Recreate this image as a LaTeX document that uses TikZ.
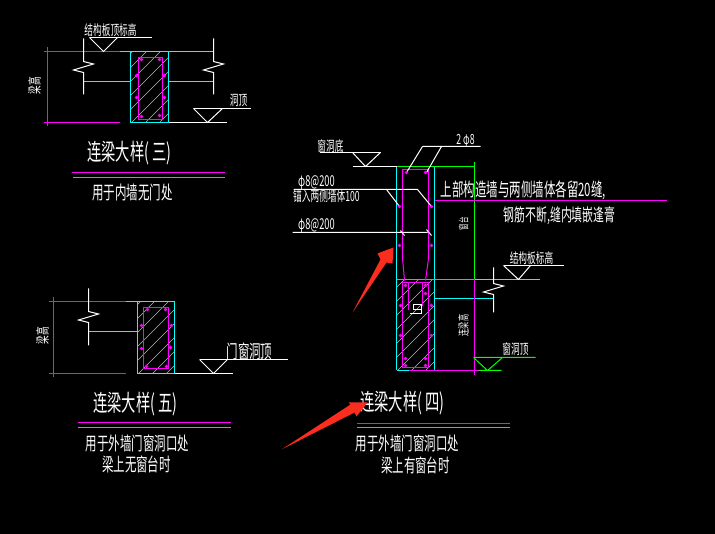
\documentclass[tikz,border=0pt]{standalone}
\usepackage{fontspec}
\usepackage{xcolor}
\newfontfamily\cjk[FakeStretch=0.62]{Noto Sans CJK SC}
\definecolor{cadcyan}{RGB}{0,255,255}
\definecolor{cadgreen}{RGB}{0,255,0}
\definecolor{cadpink}{RGB}{255,0,255}
\definecolor{cadhatch}{RGB}{185,185,185}
\definecolor{markred}{RGB}{250,45,30}
\newcommand{\cadtext}[1]{\fontsize{#1}{#1}\selectfont\cjk}

\begin{document}
\begin{tikzpicture}[x=1pt, y=-1pt, shift={(.5,.5)}, line width=1pt]
\tikzstyle{every node}=[text=white, inner sep=0pt, align=center]
\tikzstyle{wall}=[white]
\tikzstyle{beam}=[cadcyan]
\tikzstyle{bar}=[cadpink]
\tikzstyle{level}=[cadgreen]
\tikzstyle{hatch}=[cadhatch, line width=.5pt]
\tikzstyle{headline}=[font=\cadtext{23}]
\tikzstyle{subline}=[font=\cadtext{18.5}]
\tikzstyle{small}=[font=\cadtext{14}]
\fill[black] (-.5,-.5) rectangle (714.5,533.5);
\useasboundingbox (-.5,-.5) rectangle (714.5,533.5);
% hatching of the three sections
\foreach \xa/\ya/\xb/\yb in {130/51/168/122, 137/301/174/373, 396/279/434/370}{
  \begin{scope}
  \clip (\xa,\ya) rectangle (\xb,\yb);
  \foreach \s in {0,14,...,154}{\draw[hatch] (\xa-97+\s,\yb) -- ++(100,-100);}
  \end{scope}
}
% detail three
\draw[bar] (43,51) -- (119,51) (43,122) -- (119,122) (47,47) -- (47,126);
\draw[beam] (119,51) -- (213,51) (83,81) -- (130,81) (168,81) -- (213,81);
\draw[beam] (130,51) rectangle (168,122);
\draw[bar] (138,57) rectangle (162,119);
\draw[wall] (168,122) -- (226,122);
\draw[bar] (71,172) -- (224,172);
\draw[level] (72,177) -- (224,177);
\node[small] (top3) at (110,30) {结构板顶标高};
\node[small] (hole3) at (238,100) {洞顶};
\node[small, rotate=90] (high3) at (34,85) {梁高};
\node[headline] (title3) at (129,153) {连梁大样( 三)};
\node[subline] (note3) at (132,192) {用于内墙无门处};
% detail five
\draw[bar] (48,301) -- (125,301) (48,373) -- (125,373) (53,297) -- (53,377);
\draw[beam] (125,301) -- (137,301) (88,331) -- (137,331);
\draw[beam] (137,301) rectangle (174,373);
\draw[bar] (143,307) rectangle (168,368);
\draw[wall] (174,373) -- (232,373);
\draw[bar] (77,422) -- (230,422);
\draw[level] (77,427) -- (230,427);
\node[subline] (hole5) at (249,351) {门窗洞顶};
\node[small, rotate=90] (high5) at (42,335) {梁高};
\node[headline] (title5) at (135,404) {连梁大样( 五)};
\node[subline] (note5) at (137,443) {用于外墙门窗洞口处};
\node[subline] (table5) at (136,464) {梁上无窗台时};
% detail four
\draw[beam] (396,166) -- (396,370) (434,166) -- (434,370);
\draw[beam] (474,279) -- (539,279) (434,298) -- (493,298);
\draw[level] (396,166) -- (474,166) (474,162) -- (474,279) (396,279) -- (474,279);
\draw[bar] (474,279) -- (474,375) (408,370) -- (478,370);
\draw[beam] (396,370) -- (408,370);
\draw[level] (478,370) -- (501,370) (473,357) -- (535,357) (473,357) -- (487,370) -- (502,357);
\draw[bar] (434,200) -- (666,200);
\draw[bar] (404,280) -- (402,258) -- (402,169) -- (428,169) -- (428,258) -- (425,280);
\draw[bar] (402,282) rectangle (428,367);
\draw[bar] (408,282) -- (408,310) (422,282) -- (422,306);
\draw[wall] (413,304) rectangle (421,309) (421,309) -- (421,313) -- (409,313);
\draw[wall] (352,166) -- (396,166) (319,152) -- (380,152);
\draw[wall] (422,146) -- (480,146) (422,146) -- (406,172) (441,146) -- (426,172);
\draw[wall] (293,189) -- (417,189) (386,189) -- (399,206) (417,189) -- (431,206);
\draw[wall] (292,232) -- (427,232) (400,230) -- (404,235) (426,229) -- (431,235);
\draw[bar] (356,423) -- (509,423);
\draw[level] (356,427) -- (509,427);
\node[small] (sill4) at (330,146) {窗洞底};
\node[small] (bars4) at (465,140) {2 φ8};
\node[font=\cadtext{15}] (stir4) at (316,182) {φ8@200};
\node[small] (anchor4) at (326,196) {锚入两侧墙体100};
\node[font=\cadtext{15}] (dist4) at (316,225) {φ8@200};
\node[subline] (gap4) at (523,190) {上部构造墙与两侧墙体各留20缝,};
\node[font=\cadtext{17.5}] (fill4) at (559,215) {钢筋不断,缝内填嵌逢膏};
\node[font=\cadtext{10.5}, rotate=90] (table4) at (463,223) {窗台};
\node[font=\cadtext{11.5}, rotate=90] (high4) at (463,325) {连梁高};
\node[small] (top4) at (531,258) {结构板标高};
\node[small] (hole4) at (515,349) {窗洞顶};
\node[headline] (title4) at (402,403) {连梁大样( 四)};
\node[subline] (note4) at (407,443) {用于外墙门窗洞口处};
\node[subline] (table4b) at (415,465) {梁上有窗台时};
% level marks
\foreach \a/\b/\c/\d in {89/103/117/37, 193/207/222/108, 199/213/227/359, 352/365/380/152, 503/518/530/265}{
  \draw[wall] (\a,\d) -- (\b,\d+14) -- (\c,\d);
}
\draw[wall] (89,37) -- (151,37) (193,108) -- (250,108) (199,359) -- (287,359) (503,265) -- (563,265);
% wall breaks
\foreach \x/\ya/\yb/\yc in {83/38/61/94, 213/38/61/94, 88/288/311/345, 493/267/283/312}{
  \draw[wall] (\x,\ya) -- (\x,\yb) -- (\x+10,\yb+2.5) -- (\x-10,\yb+8.5) -- (\x,\yb+11) -- (\x,\yc);
}
% bars
\foreach \x/\y in {141/59, 159/59, 136/75, 164/75, 136/97, 164/97, 141/116, 159/115,
                   147/309, 165/309, 141/325, 171/325, 141/348, 170/347, 146/366, 166/366,
                   406/172, 425/172, 399/206, 431/206, 399/245, 431/245,
                   405/285, 425/285, 425/293, 400/305, 431/305, 400/335, 431/335,
                   405/358, 425/358, 405/365, 425/365}{
  \draw[bar] (\x,\y) circle (1.2pt);
}
% red marks over the drawing
\fill[markred] (352,312) -- (380,259) -- (377,253) -- (393,247) -- (392,263) -- (386,262) -- cycle;
\fill[markred] (281,449) -- (350,404) -- (348,402) -- (367,402) -- (356,416) -- (354,412) -- cycle;
\end{tikzpicture}
\end{document}
